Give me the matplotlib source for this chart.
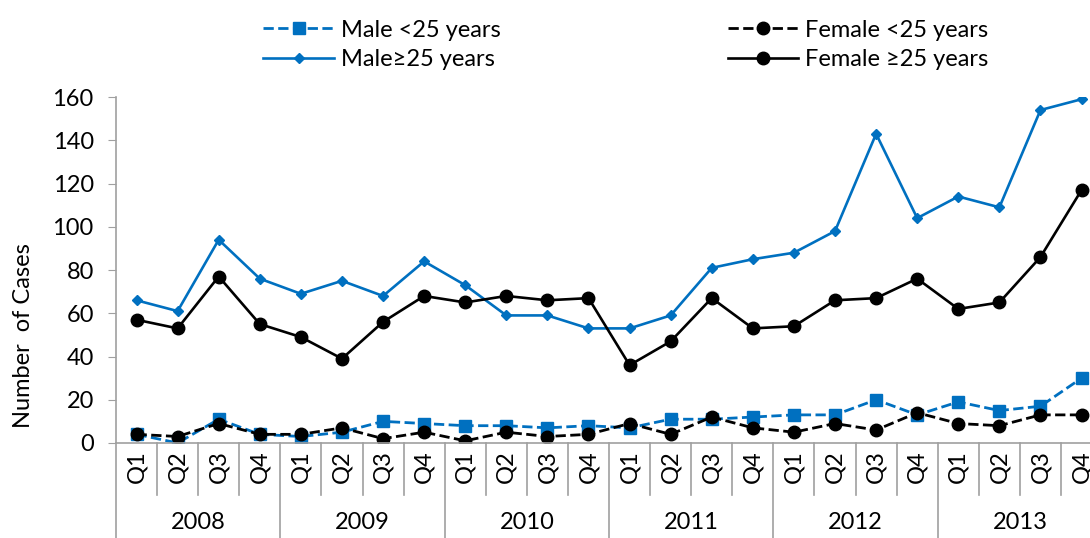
import numpy as np
import matplotlib.pyplot as plt

plt.rcParams['font.family'] = ['Lato', 'DejaVu Sans']

years = ['2008', '2009', '2010', '2011', '2012', '2013']
quarters = ['Q1', 'Q2', 'Q3', 'Q4']

male_lt25 = [4, 0, 11, 4, 3, 5, 10, 9, 8, 8, 7, 8, 7, 11, 11, 12, 13, 13, 20, 13, 19, 15, 17, 30]
female_lt25 = [4, 3, 9, 4, 4, 7, 2, 5, 1, 5, 3, 4, 9, 4, 12, 7, 5, 9, 6, 14, 9, 8, 13, 13]
male_ge25 = [66, 61, 94, 76, 69, 75, 68, 84, 73, 59, 59, 53, 53, 59, 81, 85, 88, 98, 143, 104, 114, 109, 154, 159]
female_ge25 = [57, 53, 77, 55, 49, 39, 56, 68, 65, 68, 66, 67, 36, 47, 67, 53, 54, 66, 67, 76, 62, 65, 86, 117]

blue = '#0070C0'
fs = 17
x = np.arange(len(male_lt25))

fig = plt.figure(figsize=(10.9, 5.38), dpi=100)
ax = fig.add_axes([0.1064, 0.1766, 0.9047, 0.643])

l1, = ax.plot(x, male_lt25, color=blue, ls='--', lw=2, marker='s', ms=9, label='Male <25 years')
l2, = ax.plot(x, female_lt25, color='black', ls='--', lw=2, marker='o', ms=9, label='Female <25 years')
l3, = ax.plot(x, male_ge25, color=blue, ls='-', lw=1.9, marker='D', ms=5, label='Male\u226525 years')
l4, = ax.plot(x, female_ge25, color='black', ls='-', lw=1.9, marker='o', ms=9, label='Female \u226525 years')

ax.set_xlim(-0.5, len(x) - 0.5)
ax.set_ylim(0, 160)
ax.set_yticks(range(0, 161, 20))
ax.tick_params(axis='y', labelsize=fs, color='#a0a0a0', length=6, pad=10)
ax.set_xticks([])
ax.set_ylabel('Number  of Cases', fontsize=fs)
ax.yaxis.set_label_coords(-0.083, 0.31)
for s in ['top', 'right']:
    ax.spines[s].set_visible(False)
for s in ['left', 'bottom']:
    ax.spines[s].set_color('#a0a0a0')
    ax.spines[s].set_linewidth(1.2)

# two-level category axis
trans = ax.get_xaxis_transform()
for i in range(len(x) + 1):
    bottom = -0.28 if i % 4 == 0 else -0.15
    ax.plot([i - 0.5, i - 0.5], [0, bottom], transform=trans, color='#a0a0a0', lw=1.2, clip_on=False)
for i in range(len(x)):
    ax.text(i, -0.068, quarters[i % 4], transform=trans, rotation=90, ha='center', va='center', fontsize=fs)
for j, yr in enumerate(years):
    ax.text(j * 4 + 1.5, -0.23, yr, transform=trans, ha='center', va='center', fontsize=fs)

fig.legend(handles=[l1, l3, l2, l4], ncol=2, loc='upper left', bbox_to_anchor=(0.222, 1.003),
           frameon=False, fontsize=fs, handlelength=3.0, columnspacing=9.6, labelspacing=0.37,
           handletextpad=0.3)

fig.savefig('out.png', dpi=100)
